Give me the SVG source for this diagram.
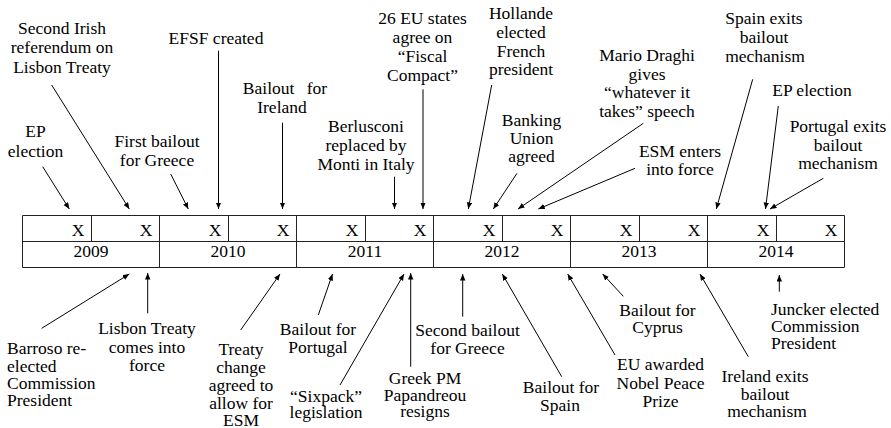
<svg xmlns="http://www.w3.org/2000/svg" width="891" height="428" viewBox="0 0 891 428" font-family="Liberation Serif, DejaVu Serif, serif" font-size="17.5">
<style>
text{fill:#000}
.c{text-anchor:middle}
.l{text-anchor:start}
.grid{stroke:#222;stroke-width:1;fill:none}
.arr{stroke:#000;stroke-width:1;fill:none;marker-end:url(#ah)}
</style>
<defs>
<marker id="ah" markerUnits="userSpaceOnUse" markerWidth="7" markerHeight="6" refX="6.5" refY="2.7" orient="auto">
<path d="M0,0 L6.5,2.7 L0,5.4 z" fill="#000"/>
</marker>
</defs>
<rect width="891" height="428" fill="#fff"/>

<g id="timeline">
<path class="grid" d="M22.5,215.5H844.5M22.5,241.5H844.5M22.5,267.5H844.5M22.5,215.5V267.5M159.5,215.5V267.5M296.5,215.5V267.5M433.5,215.5V267.5M570.5,215.5V267.5M707.5,215.5V267.5M844.5,215.5V267.5M91.5,215.5V241.5M228.5,215.5V241.5M365.5,215.5V241.5M502.5,215.5V241.5M639.5,215.5V241.5M776.5,215.5V241.5"/>
<g class="c">
<text x="78" y="236">X</text><text x="146" y="236">X</text>
<text x="215" y="236">X</text><text x="283" y="236">X</text>
<text x="352" y="236">X</text><text x="420" y="236">X</text>
<text x="489" y="236">X</text><text x="557" y="236">X</text>
<text x="626" y="236">X</text><text x="694" y="236">X</text>
<text x="763" y="236">X</text><text x="831" y="236">X</text>
<text x="91" y="256.5">2009</text>
<text x="228" y="256.5">2010</text>
<text x="365" y="256.5">2011</text>
<text x="502" y="256.5">2012</text>
<text x="639" y="256.5">2013</text>
<text x="776" y="256.5">2014</text>
</g>
</g>

<g id="connectors">
<line class="arr" x1="42.7" y1="166.7" x2="69.3" y2="209"/>
<line class="arr" x1="51.7" y1="85" x2="129.3" y2="209"/>
<line class="arr" x1="170.7" y1="174" x2="188.3" y2="209"/>
<line class="arr" x1="218.5" y1="50.7" x2="218.5" y2="209"/>
<line class="arr" x1="282.5" y1="122.7" x2="282.5" y2="209"/>
<line class="arr" x1="394.5" y1="176.7" x2="394.5" y2="209"/>
<line class="arr" x1="423" y1="89.3" x2="423" y2="209"/>
<line class="arr" x1="491.7" y1="85" x2="468.3" y2="209"/>
<line class="arr" x1="517" y1="173.3" x2="493.3" y2="209"/>
<line class="arr" x1="643.3" y1="123.3" x2="518" y2="209"/>
<line class="arr" x1="635" y1="168.3" x2="538.3" y2="209"/>
<line class="arr" x1="752.7" y1="79.3" x2="716.3" y2="209"/>
<line class="arr" x1="778.3" y1="106" x2="765.5" y2="209"/>
<line class="arr" x1="823.3" y1="178.3" x2="770" y2="209"/>

<line class="arr" x1="41.7" y1="328.3" x2="129.3" y2="274"/>
<line class="arr" x1="147.7" y1="313.3" x2="147.7" y2="273"/>
<line class="arr" x1="240.7" y1="330" x2="280" y2="274"/>
<line class="arr" x1="318.3" y1="315" x2="332.5" y2="274"/>
<line class="arr" x1="340" y1="385" x2="404" y2="274"/>
<line class="arr" x1="410.7" y1="366.7" x2="410.7" y2="273"/>
<line class="arr" x1="462.7" y1="316.7" x2="462.7" y2="274"/>
<line class="arr" x1="561.7" y1="376.7" x2="502.3" y2="274"/>
<line class="arr" x1="615" y1="355" x2="567.7" y2="274"/>
<line class="arr" x1="623.3" y1="296.3" x2="602.7" y2="274"/>
<line class="arr" x1="748.3" y1="356.7" x2="700" y2="274"/>
<line class="arr" x1="779.3" y1="291.7" x2="779.3" y2="275"/>
</g>

<g id="ev-ep2009"><text class="c"><tspan x="35.5" y="137">EP</tspan><tspan x="35.5" y="157">election</tspan></text></g>
<g id="ev-irish-referendum"><text class="c"><tspan x="62" y="34">Second Irish</tspan><tspan x="62" y="53">referendum on</tspan><tspan x="62" y="72.5">Lisbon Treaty</tspan></text></g>
<g id="ev-first-bailout-greece"><text class="c"><tspan x="157" y="146.5">First bailout</tspan><tspan x="157" y="165.5">for Greece</tspan></text></g>
<g id="ev-efsf"><text class="c" x="216" y="44">EFSF created</text></g>
<g id="ev-bailout-ireland"><text class="c"><tspan x="285" y="94" word-spacing="8">Bailout for</tspan><tspan x="282" y="113">Ireland</tspan></text></g>
<g id="ev-berlusconi"><text class="c"><tspan x="366" y="131.5">Berlusconi</tspan><tspan x="366" y="150.5">replaced by</tspan><tspan x="366" y="169.5">Monti in Italy</tspan></text></g>
<g id="ev-fiscal-compact"><text class="c"><tspan x="422.5" y="24">26 EU states</tspan><tspan x="422.5" y="43">agree on</tspan><tspan x="422.5" y="62">“Fiscal</tspan><tspan x="422.5" y="81">Compact”</tspan></text></g>
<g id="ev-hollande"><text class="c"><tspan x="521" y="19">Hollande</tspan><tspan x="521" y="37.8">elected</tspan><tspan x="521" y="56.6">French</tspan><tspan x="521" y="75.4">president</tspan></text></g>
<g id="ev-banking-union"><text class="c"><tspan x="531.5" y="125.5">Banking</tspan><tspan x="531.5" y="143.5">Union</tspan><tspan x="531.5" y="161.5">agreed</tspan></text></g>
<g id="ev-draghi"><text class="c"><tspan x="647" y="61">Mario Draghi</tspan><tspan x="647" y="79.5">gives</tspan><tspan x="647" y="98">“whatever it</tspan><tspan x="647" y="116.5">takes” speech</tspan></text></g>
<g id="ev-esm"><text class="c"><tspan x="680" y="156.5">ESM enters</tspan><tspan x="680" y="175">into force</tspan></text></g>
<g id="ev-spain-exits"><text class="c"><tspan x="764" y="23.5">Spain exits</tspan><tspan x="764" y="43">bailout</tspan><tspan x="765" y="61.5">mechanism</tspan></text></g>
<g id="ev-ep2014"><text class="c" x="812" y="96">EP election</text></g>
<g id="ev-portugal-exits"><text class="c"><tspan x="838" y="131.5">Portugal exits</tspan><tspan x="838" y="150.5">bailout</tspan><tspan x="838" y="168.5">mechanism</tspan></text></g>

<g id="ev-barroso"><text class="l"><tspan x="7" y="354">Barroso re-</tspan><tspan x="7" y="371.5">elected</tspan><tspan x="7" y="388.5">Commission</tspan><tspan x="7" y="405.5">President</tspan></text></g>
<g id="ev-lisbon"><text class="c"><tspan x="147" y="334">Lisbon Treaty</tspan><tspan x="147" y="352.5">comes into</tspan><tspan x="147" y="370.5">force</tspan></text></g>
<g id="ev-treaty-change"><text class="c"><tspan x="241" y="355">Treaty</tspan><tspan x="241" y="373">change</tspan><tspan x="241" y="391">agreed to</tspan><tspan x="241" y="409">allow for</tspan><tspan x="241" y="425.5">ESM</tspan></text></g>
<g id="ev-bailout-portugal"><text class="c"><tspan x="318" y="335">Bailout for</tspan><tspan x="318" y="353">Portugal</tspan></text></g>
<g id="ev-sixpack"><text class="c"><tspan x="326" y="401.5">“Sixpack”</tspan><tspan x="326" y="418">legislation</tspan></text></g>
<g id="ev-greek-pm"><text class="c"><tspan x="425" y="383.5">Greek PM</tspan><tspan x="425" y="400.5">Papandreou</tspan><tspan x="425" y="417">resigns</tspan></text></g>
<g id="ev-second-bailout-greece"><text class="c"><tspan x="467.5" y="336">Second bailout</tspan><tspan x="467.5" y="353.5">for Greece</tspan></text></g>
<g id="ev-bailout-spain"><text class="c"><tspan x="561" y="393">Bailout for</tspan><tspan x="560" y="411">Spain</tspan></text></g>
<g id="ev-nobel"><text class="c"><tspan x="660.5" y="370">EU awarded</tspan><tspan x="660.5" y="388.5">Nobel Peace</tspan><tspan x="660.5" y="406.5">Prize</tspan></text></g>
<g id="ev-bailout-cyprus"><text class="c"><tspan x="657.5" y="316">Bailout for</tspan><tspan x="657.5" y="332.5">Cyprus</tspan></text></g>
<g id="ev-ireland-exits"><text class="c"><tspan x="765" y="381.5">Ireland exits</tspan><tspan x="765" y="399.5">bailout</tspan><tspan x="767" y="417">mechanism</tspan></text></g>
<g id="ev-juncker"><text class="l"><tspan x="771" y="315">Juncker elected</tspan><tspan x="771" y="332">Commission</tspan><tspan x="771" y="349">President</tspan></text></g>
</svg>
